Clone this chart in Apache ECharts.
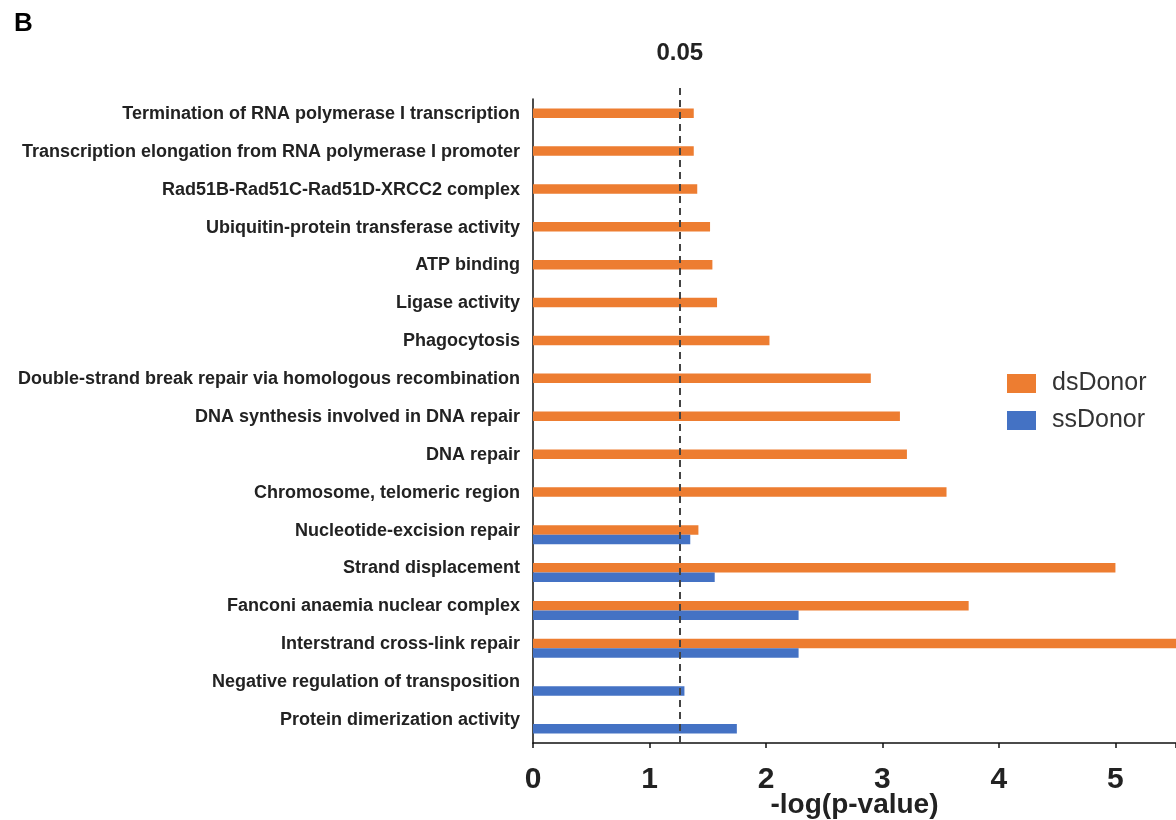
<!DOCTYPE html>
<html>
<head>
<meta charset="utf-8">
<script src="https://cdn.jsdelivr.net/npm/echarts@6/dist/echarts.min.js"></script>
<style>html,body{margin:0;padding:0;background:#fff;overflow:hidden;}#c{width:1176px;height:820px;}</style>
</head>
<body>
<div id="c"></div>
<script>
const categories = [
  'Termination of RNA polymerase I transcription',
  'Transcription elongation from RNA polymerase I promoter',
  'Rad51B-Rad51C-Rad51D-XRCC2 complex',
  'Ubiquitin-protein transferase activity',
  'ATP binding',
  'Ligase activity',
  'Phagocytosis',
  'Double-strand break repair via homologous recombination',
  'DNA synthesis involved in DNA repair',
  'DNA repair',
  'Chromosome, telomeric region',
  'Nucleotide-excision repair',
  'Strand displacement',
  'Fanconi anaemia nuclear complex',
  'Interstrand cross-link repair',
  'Negative regulation of transposition',
  'Protein dimerization activity'
];
const dsDonor = [1.38, 1.38, 1.41, 1.52, 1.54, 1.58, 2.03, 2.90, 3.15, 3.21, 3.55, 1.42, 5.00, 3.74, 6.00, null, null];
const ssDonor = [null, null, null, null, null, null, null, null, null, null, null, 1.35, 1.56, 2.28, 2.28, 1.30, 1.75];
const threshold = 1.26;
const thresholdLabel = '0.05';
const xTicks = [0, 1, 2, 3, 4, 5];

const FONT = '"Liberation Sans", Arial, Helvetica, sans-serif';
const chart = echarts.init(document.getElementById('c'), null, {renderer: 'canvas'});
chart.setOption({
  backgroundColor: '#ffffff',
  animation: false,
  title: {
    text: 'B', left: 9, top: 6,
    textStyle: {fontFamily: FONT, fontSize: 26, fontWeight: 'bold', color: '#000'}
  },
  legend: {
    orient: 'vertical', left: 1007, top: 371, padding: 0,
    itemWidth: 29, itemHeight: 19, itemGap: 12,
    icon: 'rect',
    textStyle: {fontFamily: FONT, fontSize: 25, color: '#333', padding: [0, 0, 0, 11]},
    data: ['dsDonor', 'ssDonor']
  },
  grid: [
    {left: 533, right: 0, top: 99, bottom: 77, containLabel: false, outerBoundsMode: 'none'},
    {left: 533, right: 0, top: 83, bottom: 77, containLabel: false, outerBoundsMode: 'none'}
  ],
  xAxis: [
    {
      type: 'value', gridIndex: 0, min: 0, max: 5.52, interval: 1,
      name: '-log(p-value)', nameLocation: 'middle', nameGap: 48, nameMoveOverlap: false,
      nameTextStyle: {fontFamily: FONT, fontSize: 28, fontWeight: 'bold', color: '#222'},
      axisLine: {show: true, lineStyle: {color: '#111', width: 1.5}},
      axisTick: {show: true, length: 5, lineStyle: {color: '#111', width: 1.5}},
      axisLabel: {
        fontFamily: FONT, fontSize: 30, fontWeight: 'bold', color: '#222', margin: 22,
        formatter: v => (xTicks.indexOf(v) >= 0 ? String(v) : '')
      },
      splitLine: {show: false}
    },
    {type: 'value', gridIndex: 1, min: 0, max: 5.52, show: false}
  ],
  yAxis: [
    {
      type: 'category', gridIndex: 0, data: categories, inverse: true,
      axisLine: {show: true, lineStyle: {color: '#111', width: 1.5}},
      axisTick: {show: false},
      axisLabel: {
        fontFamily: FONT, fontSize: 18, fontWeight: 'bold', color: '#222', margin: 13,
        verticalAlign: 'bottom', lineHeight: 8
      }
    },
    {type: 'value', gridIndex: 1, min: 0, max: 1, show: false}
  ],
  series: [
    {
      name: 'dsDonor', type: 'bar', xAxisIndex: 0, yAxisIndex: 0,
      data: dsDonor, barWidth: 9.5, barGap: '0%', clip: true,
      itemStyle: {color: '#ED7D31'}
    },
    {
      name: 'ssDonor', type: 'bar', xAxisIndex: 0, yAxisIndex: 0,
      data: ssDonor, barWidth: 9.5, barGap: '0%', clip: true,
      itemStyle: {color: '#4472C4'}
    },
    {
      name: 'threshold', type: 'scatter', xAxisIndex: 1, yAxisIndex: 1,
      data: [[threshold, 0]], symbolSize: 0, silent: true,
      markLine: {
        silent: true, symbol: ['none', 'none'],
        lineStyle: {color: '#444', type: [7, 5], width: 2},
        label: {
          show: true, position: 'end', distance: 18,
          formatter: thresholdLabel,
          fontFamily: FONT, fontSize: 24, fontWeight: 'bold', color: '#222'
        },
        data: [{xAxis: threshold}]
      }
    }
  ]
});
</script>
</body>
</html>
